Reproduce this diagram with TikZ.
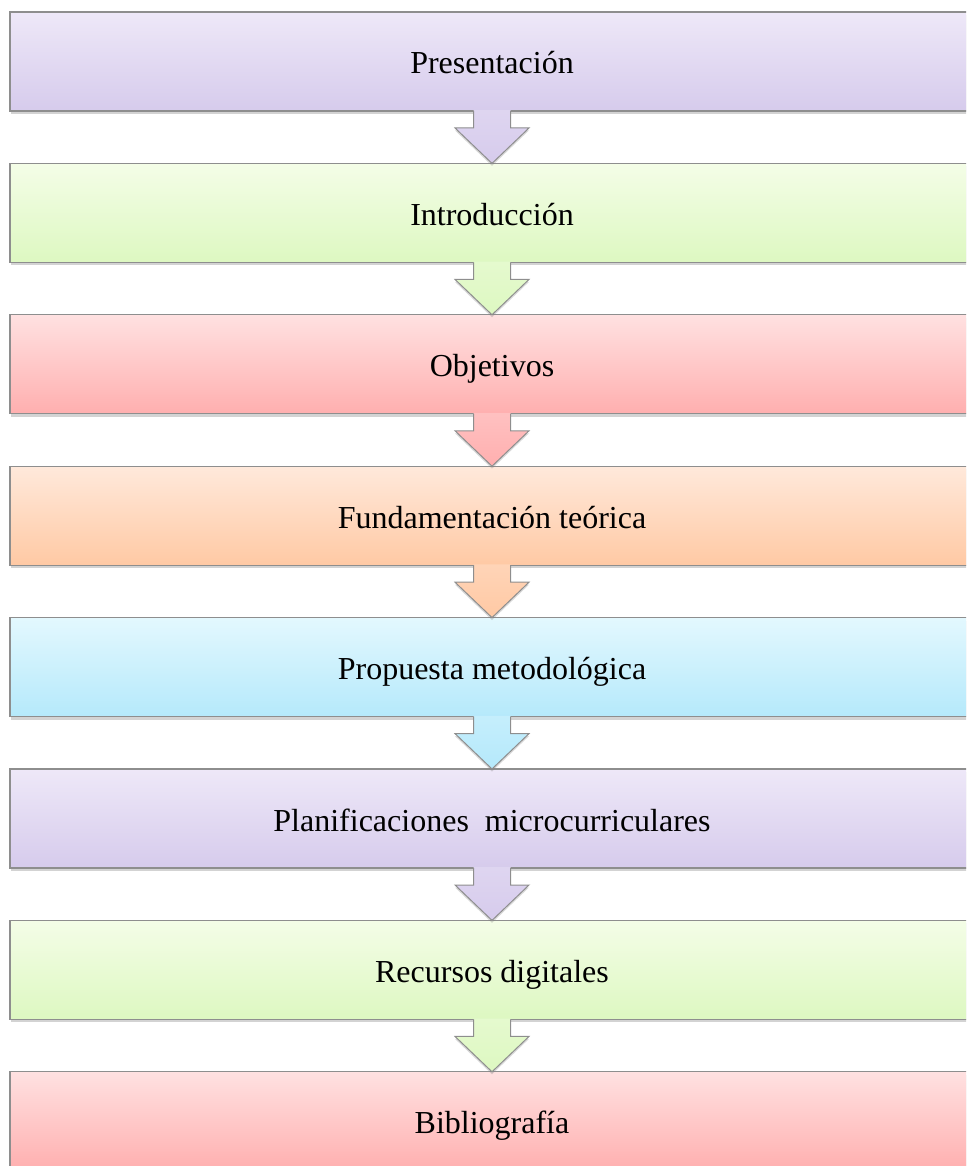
\documentclass[tikz,border=0pt]{standalone}
\usepackage{fontspec}
\setmainfont{Liberation Serif}
\usetikzlibrary{positioning,shadows}
\definecolor{bordegris}{HTML}{8E8E8E}
\definecolor{lilaA}{HTML}{EEE8F8}
\definecolor{lilaB}{HTML}{D6CBEC}
\definecolor{verdeA}{HTML}{F4FDE7}
\definecolor{verdeB}{HTML}{DDF8C1}
\definecolor{rojoA}{HTML}{FFE1E1}
\definecolor{rojoB}{HTML}{FFAFAF}
\definecolor{naranjaA}{HTML}{FFE9DB}
\definecolor{naranjaB}{HTML}{FFC9A4}
\definecolor{cianA}{HTML}{E3F8FE}
\definecolor{cianB}{HTML}{B5E9FB}
\newcommand{\flechabloque}[3]{%
  \path[top color=#3A!35!#3B, bottom color=#3B,
    drop shadow={shadow xshift=0pt, shadow yshift=-2.5pt, opacity=0.3}]
    ([xshift=-18.5pt, yshift=0.8pt]#1.south) -- ([xshift=-18.5pt, yshift=-17pt]#1.south)
    -- ([xshift=-37pt, yshift=-17pt]#1.south) -- (#2.north)
    -- ([xshift=37pt, yshift=-17pt]#1.south) -- ([xshift=18.5pt, yshift=-17pt]#1.south)
    -- ([xshift=18.5pt, yshift=0.8pt]#1.south) -- cycle;
  \draw[bordegris, line width=1pt, line join=miter]
    ([xshift=-18.5pt]#1.south) -- ([xshift=-18.5pt, yshift=-17pt]#1.south)
    -- ([xshift=-37pt, yshift=-17pt]#1.south) -- (#2.north)
    -- ([xshift=37pt, yshift=-17pt]#1.south) -- ([xshift=18.5pt, yshift=-17pt]#1.south)
    -- ([xshift=18.5pt]#1.south);
}
\begin{document}
\begin{tikzpicture}
      [seccion/.style={draw=bordegris, line width=1.2pt, inner sep=0pt, outer sep=0pt,
        minimum width=964pt, minimum height=99pt, text height=25pt, text depth=0pt,
        font=\fontsize{32}{38}\selectfont,
        drop shadow={shadow xshift=0.5pt, shadow yshift=-3pt, opacity=0.35}},
      lila/.style={top color=lilaA, bottom color=lilaB},
      verde/.style={top color=verdeA, bottom color=verdeB},
      rojo/.style={top color=rojoA, bottom color=rojoB},
      naranja/.style={top color=naranjaA, bottom color=naranjaB},
      cian/.style={top color=cianA, bottom color=cianB},
      node distance=52.4pt]
      \clip (0pt,0pt) rectangle (966pt,-1166pt);
      \node[seccion, lila] (presentacion) at (492pt,-61.5pt) {Presentación};
      \node[seccion, verde, below=of presentacion] (introduccion) {Introducción};
      \node[seccion, rojo, below=of introduccion] (objetivos) {Objetivos};
      \node[seccion, naranja, below=of objetivos] (fundamentacion) {Fundamentación teórica};
      \node[seccion, cian, below=of fundamentacion] (propuesta) {Propuesta metodológica};
      \node[seccion, lila, below=of propuesta] (planificaciones) {Planificaciones\ \ microcurriculares};
      \node[seccion, verde, below=of planificaciones] (recursos) {Recursos digitales};
      \node[seccion, rojo, below=of recursos] (bibliografia) {Bibliografía};
      \flechabloque{presentacion}{introduccion}{lila}
      \flechabloque{introduccion}{objetivos}{verde}
      \flechabloque{objetivos}{fundamentacion}{rojo}
      \flechabloque{fundamentacion}{propuesta}{naranja}
      \flechabloque{propuesta}{planificaciones}{cian}
      \flechabloque{planificaciones}{recursos}{lila}
      \flechabloque{recursos}{bibliografia}{verde}
    \end{tikzpicture}
\end{document}
